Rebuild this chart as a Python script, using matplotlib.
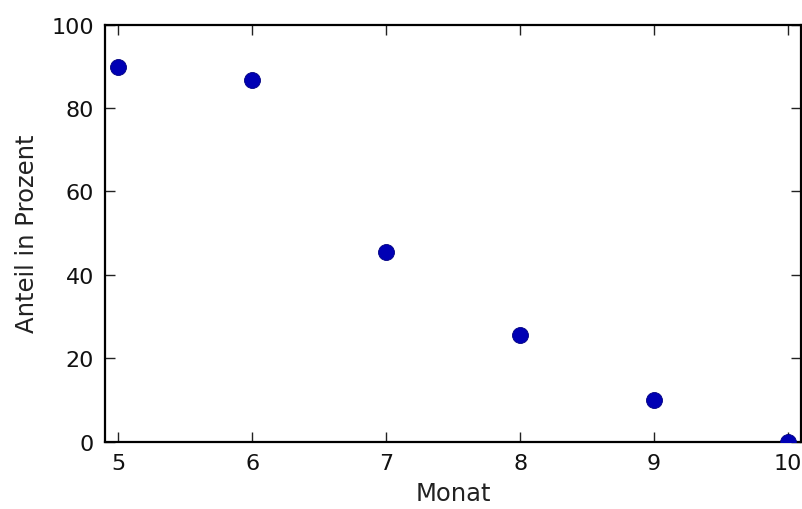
import matplotlib
matplotlib.use("Agg")
import matplotlib.pyplot as plt

monat = [5, 6, 7, 8, 9, 10]
anteil = [89.7, 86.8, 45.5, 25.6, 10.0, 0.0]
xticks = [5, 6, 7, 8, 9, 10]
yticks = [0, 20, 40, 60, 80, 100]

fig = plt.figure(figsize=(8.02, 5.10), dpi=100)
ax = fig.add_axes([0.131, 0.132, 0.868, 0.818])
ax.plot(monat, anteil, 'o', color='#0000b4', markeredgecolor='#000080',
        markeredgewidth=0.6, markersize=11.5, zorder=3)
ax.set_xlim(4.9, 10.1)
ax.set_ylim(0, 100)
ax.set_xticks(xticks)
ax.set_yticks(yticks)
ax.tick_params(direction='in', length=7, width=1, pad=8, labelsize=16,
               top=True, right=True, colors='#222222', labelcolor='#111111')
for s in ax.spines.values():
    s.set_linewidth(1.6)
ax.set_xlabel('Monat', fontsize=17.5, labelpad=6, color='#222222')
ax.set_ylabel('Anteil in Prozent', fontsize=17.5, labelpad=9, color='#222222')
fig.savefig('out.png', dpi=100)
